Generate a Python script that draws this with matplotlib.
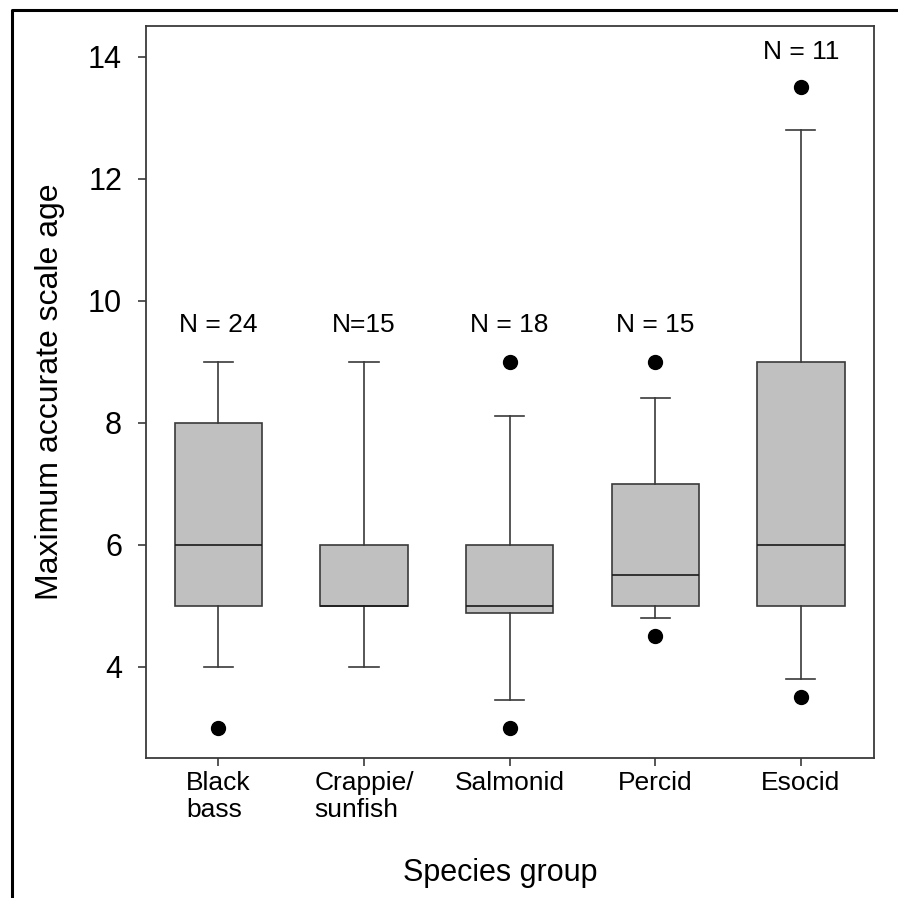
import matplotlib
matplotlib.use('Agg')
import matplotlib.pyplot as plt
from matplotlib.lines import Line2D

plt.rcParams['font.family'] = ['Liberation Sans', 'DejaVu Sans']

# box statistics
groups = ['Black\nbass', 'Crappie/\nsunfish', 'Salmonid', 'Percid', 'Esocid']
q1 = [5, 5, 4.88, 5, 5]
med = [6, 5, 5, 5.5, 6]
q3 = [8, 6, 6, 7, 9]
whislo = [4, 4, 3.45, 4.8, 3.8]
whishi = [9, 9, 8.1, 8.4, 12.8]
fliers = [[3], [], [3, 9], [4.5, 9], [3.5, 13.5]]
n_labels = ['N = 24', 'N=15', 'N = 18', 'N = 15', 'N = 11']
n_y = [9.6, 9.6, 9.6, 9.6, 14.08]
yticks = [4, 6, 8, 10, 12, 14]

stats = []
for i in range(len(groups)):
    stats.append(dict(label=groups[i], q1=q1[i], med=med[i], q3=q3[i],
                      whislo=whislo[i], whishi=whishi[i], fliers=fliers[i]))

fig = plt.figure(figsize=(8.98, 8.98), dpi=100)
ax = fig.add_axes([0.1622, 0.1559, 0.8107, 0.8151])

edge = '#3a3a3a'
pos = list(range(1, len(groups) + 1))
ax.bxp(stats, positions=pos, widths=0.6, capwidths=0.2, patch_artist=True,
       boxprops=dict(facecolor='#c0c0c0', edgecolor=edge, linewidth=1.2),
       medianprops=dict(color='#1a1a1a', linewidth=1.2),
       whiskerprops=dict(color=edge, linewidth=1.2),
       capprops=dict(color=edge, linewidth=1.2),
       flierprops=dict(marker='o', markerfacecolor='black',
                       markeredgecolor='black', markersize=10))

for p, lab, y in zip(pos, n_labels, n_y):
    ax.text(p, y, lab, ha='center', va='center', fontsize=19)

ax.set_xlim(0.5, 5.5)
ax.set_ylim(2.5, 14.5)
ax.set_yticks(yticks)
ax.set_xticks(pos)
ax.set_xticklabels(groups, fontsize=19, multialignment='left')
ax.tick_params(axis='y', labelsize=22, length=6, width=1.2, color=edge, pad=11)
ax.tick_params(axis='x', length=6, width=1.2, color=edge, pad=3)
for s in ax.spines.values():
    s.set_color(edge)
    s.set_linewidth(1.3)

ax.set_ylabel('Maximum accurate scale age', fontsize=23, va='center')
ax.yaxis.set_label_coords(-0.1315, 0.5)
ax.set_xlabel('Species group', fontsize=22, va='center')
ax.xaxis.set_label_coords(0.487, -0.157)

# partial frame around the whole picture (top and left only)
x0 = 12 / 898
y0 = 1 - 10 / 898
fig.add_artist(Line2D([x0, x0, 1], [0, y0, y0], color='black', linewidth=2.2,
                      transform=fig.transFigure))

fig.savefig('out.png', dpi=100)
